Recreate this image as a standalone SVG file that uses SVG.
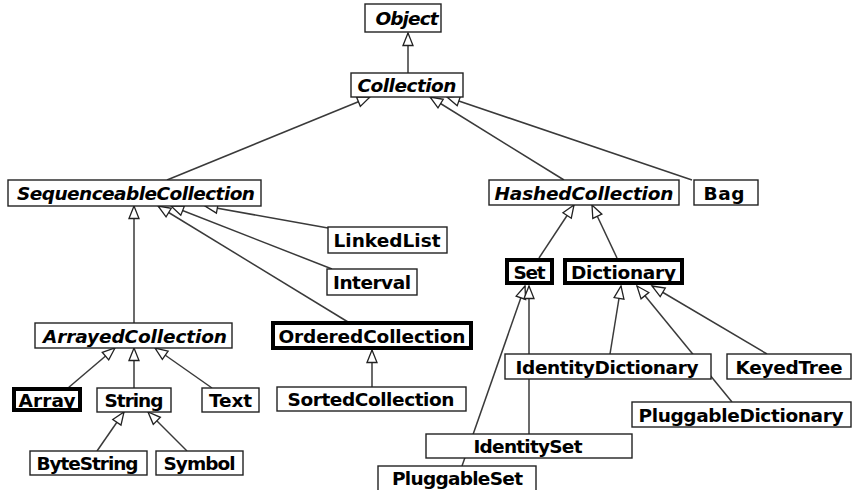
<svg xmlns="http://www.w3.org/2000/svg" width="853" height="490" viewBox="0 0 853 490">
<style>
  .box { fill: #fff; stroke: #222; stroke-width: 1.4; }
  .thick { fill: #fff; stroke: #000; stroke-width: 4; }
  text { font-family: "DejaVu Sans", "Liberation Sans", sans-serif; font-weight: bold; font-size: 18.5px; fill: #000; text-anchor: middle; }
  .abs { font-style: italic; }
  .edge { stroke: #3a3a3a; stroke-width: 1.5; fill: none; marker-end: url(#tri); }
</style>
<defs>
  <marker id="tri" markerUnits="userSpaceOnUse" markerWidth="16" markerHeight="14" refX="13" refY="5.5" orient="auto" overflow="visible">
    <path d="M0.5,0.5 L13,5.5 L0.5,10.5 Z" fill="#fff" stroke="#222" stroke-width="1.3"/>
  </marker>
</defs>
<rect width="853" height="490" fill="#fff"/>
<g id="connectors">
  <line class="edge" x1="408" y1="73" x2="408" y2="33"/>
  <line class="edge" x1="167" y1="180" x2="370" y2="97"/>
  <line class="edge" x1="564" y1="180" x2="430" y2="97"/>
  <line class="edge" x1="692" y1="180" x2="447" y2="97"/>
  <line class="edge" x1="134" y1="323" x2="134" y2="206"/>
  <line class="edge" x1="348" y1="322" x2="158" y2="206"/>
  <line class="edge" x1="332" y1="269" x2="171" y2="206"/>
  <line class="edge" x1="328" y1="228" x2="205" y2="206"/>
  <line class="edge" x1="539" y1="258" x2="574" y2="205"/>
  <line class="edge" x1="617" y1="258" x2="592" y2="205"/>
  <line class="edge" x1="68" y1="388" x2="115" y2="348"/>
  <line class="edge" x1="134" y1="388" x2="134" y2="348"/>
  <line class="edge" x1="212" y1="388" x2="155" y2="348"/>
  <line class="edge" x1="372" y1="387" x2="372" y2="350"/>
  <line class="edge" x1="97" y1="451" x2="124" y2="412"/>
  <line class="edge" x1="187" y1="451" x2="148" y2="412"/>
  <line class="edge" x1="462" y1="466" x2="525" y2="286"/>
  <line class="edge" x1="529" y1="434" x2="529" y2="286"/>
  <line class="edge" x1="610" y1="354" x2="621" y2="286"/>
  <line class="edge" x1="732" y1="402" x2="637" y2="286"/>
  <line class="edge" x1="767" y1="354" x2="652" y2="286"/>
</g>
<g id="Object"><rect class="box" x="365" y="4" width="76" height="28"/><text class="abs" x="407" y="25" textLength="63">Object</text></g>
<g id="Collection"><rect class="box" x="351" y="73" width="112" height="24"/><text class="abs" x="407" y="92" textLength="99">Collection</text></g>
<g id="SequenceableCollection"><rect class="box" x="8" y="180" width="253" height="26"/><text class="abs" x="136" y="200" textLength="238">SequenceableCollection</text></g>
<g id="HashedCollection"><rect class="box" x="489" y="180" width="190" height="25"/><text class="abs" x="584" y="199.5" textLength="179">HashedCollection</text></g>
<g id="Bag"><rect class="box" x="694" y="180" width="64" height="25"/><text x="724" y="199.5" textLength="41">Bag</text></g>
<g id="LinkedList"><rect class="box" x="328" y="227" width="119" height="26"/><text x="387" y="247" textLength="107">LinkedList</text></g>
<g id="Interval"><rect class="box" x="327" y="269" width="90" height="26"/><text x="372" y="289" textLength="78">Interval</text></g>
<g id="ArrayedCollection"><rect class="box" x="35" y="323" width="197" height="25"/><text class="abs" x="135" y="342.5" textLength="184">ArrayedCollection</text></g>
<g id="OrderedCollection"><rect class="thick" x="273" y="323" width="198" height="25"/><text x="372" y="342.5" textLength="187">OrderedCollection</text></g>
<g id="Set"><rect class="thick" x="507" y="260" width="45" height="23"/><text x="529.5" y="278.5" textLength="32">Set</text></g>
<g id="Dictionary"><rect class="thick" x="565" y="260" width="117" height="23"/><text x="623.5" y="278.5" textLength="105">Dictionary</text></g>
<g id="Array"><rect class="thick" x="14" y="389" width="66" height="21"/><text x="47" y="406.5" textLength="57">Array</text></g>
<g id="String"><rect class="box" x="97" y="388" width="74" height="24"/><text x="134" y="407" textLength="59">String</text></g>
<g id="Text"><rect class="box" x="202" y="388" width="57" height="24"/><text x="230.5" y="407" textLength="43">Text</text></g>
<g id="SortedCollection"><rect class="box" x="277" y="387" width="189" height="24"/><text x="371" y="406" textLength="167">SortedCollection</text></g>
<g id="ByteString"><rect class="box" x="30" y="451" width="117" height="24"/><text x="87.5" y="470" textLength="102">ByteString</text></g>
<g id="Symbol"><rect class="box" x="156" y="451" width="87" height="24"/><text x="199.5" y="470" textLength="72">Symbol</text></g>
<g id="IdentityDictionary"><rect class="box" x="505" y="354" width="206" height="25"/><text x="607" y="373.5" textLength="183">IdentityDictionary</text></g>
<g id="KeyedTree"><rect class="box" x="727" y="354" width="124" height="25"/><text x="789" y="373.5" textLength="107">KeyedTree</text></g>
<g id="PluggableDictionary"><rect class="box" x="632" y="402" width="219" height="25"/><text x="741" y="421.5" textLength="205">PluggableDictionary</text></g>
<g id="IdentitySet"><rect class="box" x="426" y="434" width="206" height="24"/><text x="528" y="453" textLength="109">IdentitySet</text></g>
<g id="PluggableSet"><rect class="box" x="378" y="466" width="158" height="28"/><text x="457.5" y="485" textLength="131">PluggableSet</text></g>
</svg>
